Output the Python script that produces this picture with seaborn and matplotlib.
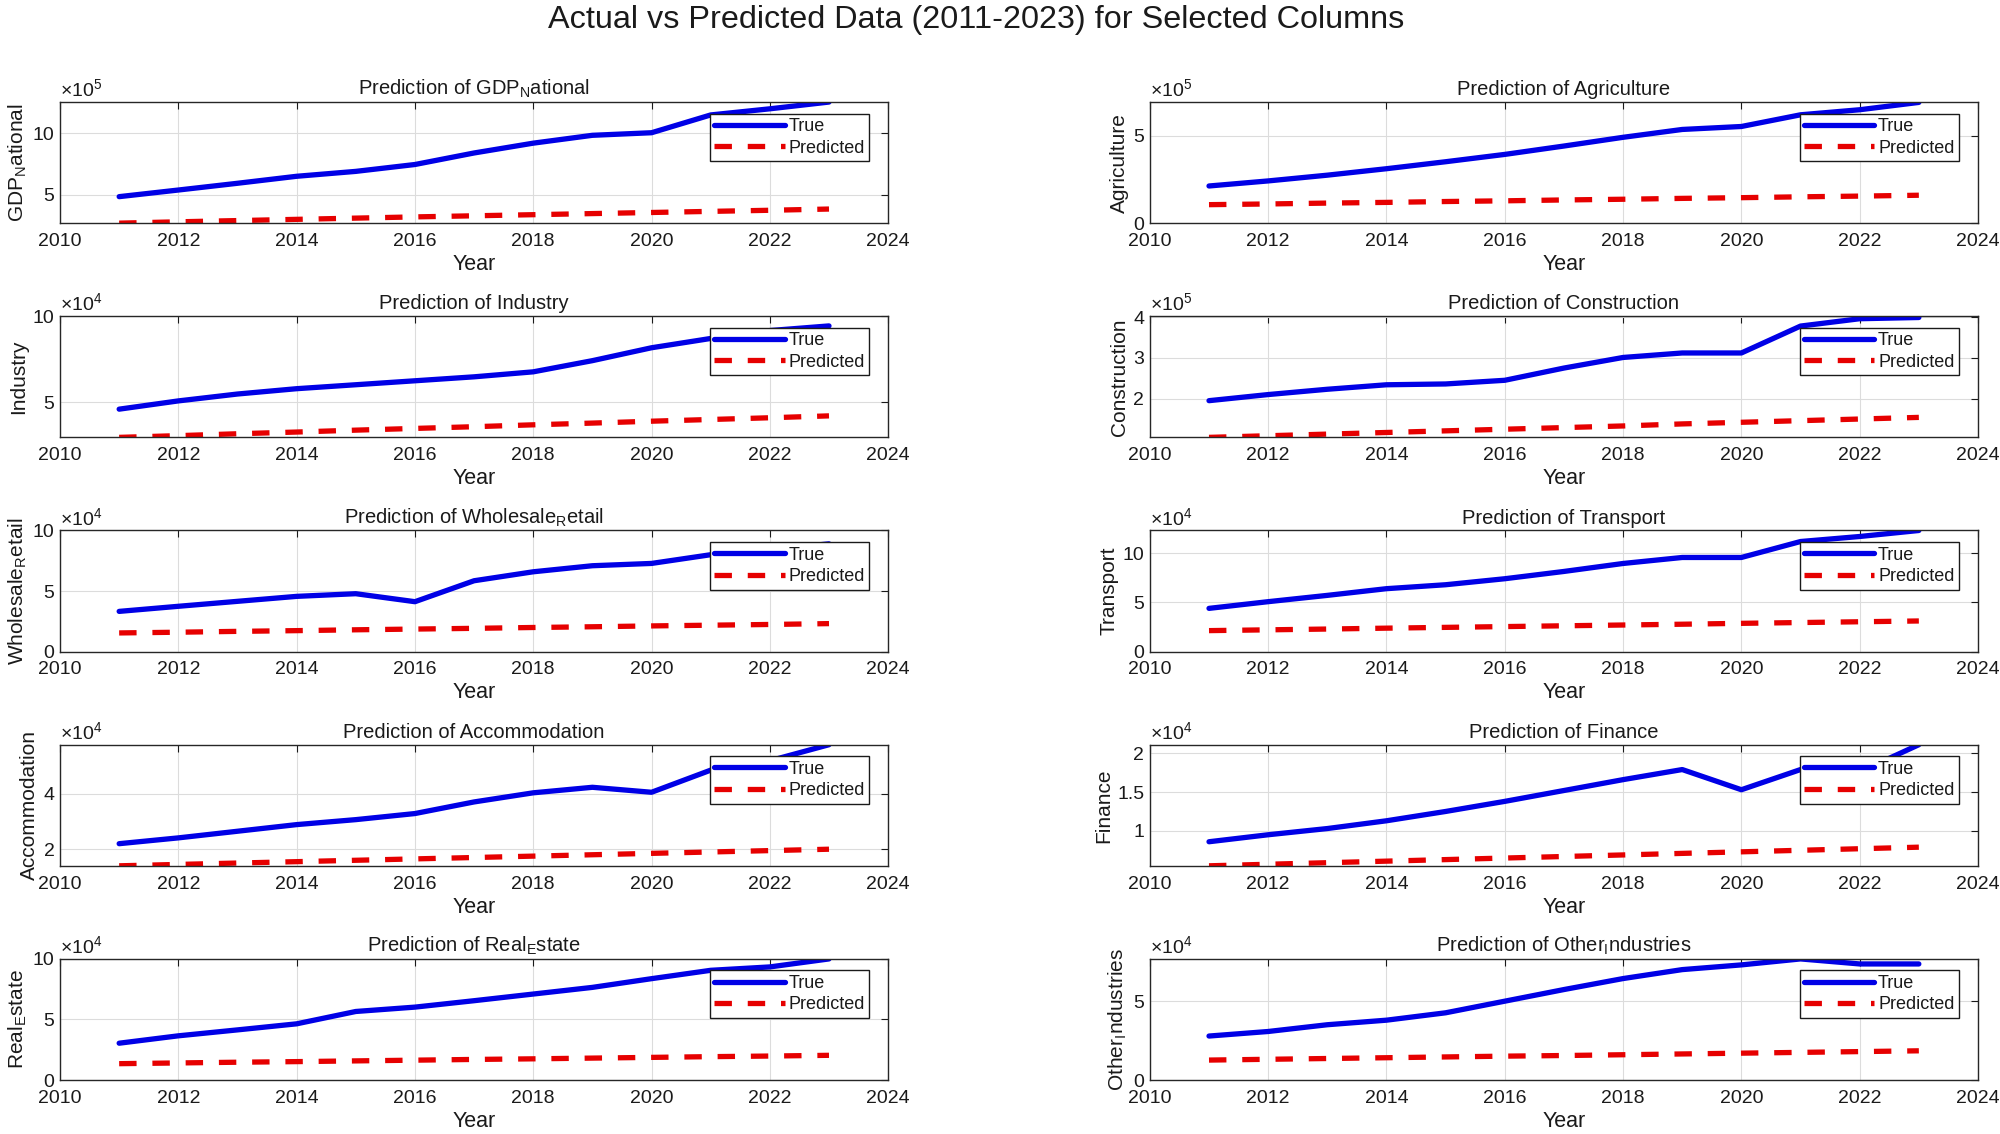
import matplotlib
matplotlib.use('Agg')
import matplotlib.pyplot as plt
import seaborn as sns
import pandas as pd
from matplotlib.ticker import FuncFormatter

years = list(range(2011, 2024))

gdp_true = [484000, 538000, 593000, 650000, 690000, 746000, 840000, 920000, 984000, 1005000, 1150000, 1200000, 1255000]
gdp_pred = [268000, 279000, 289000, 299000, 309000, 319000, 328000, 337000, 346000, 355000, 364000, 373000, 383000]

agri_true = [213000, 242000, 275000, 312000, 352000, 394000, 442000, 492000, 537000, 554000, 621000, 650000, 692000]
agri_pred = [106000, 110000, 115000, 119000, 124000, 128000, 133000, 137000, 142000, 146000, 151000, 155000, 160000]

ind_true = [46000, 50800, 54800, 57900, 60200, 62500, 64800, 67700, 74200, 81700, 87100, 91700, 94400]
ind_pred = [29600, 30600, 31700, 32700, 33800, 34800, 35800, 36900, 37900, 39000, 40000, 41000, 42100]

cons_true = [195000, 210000, 223000, 234000, 236000, 245000, 275000, 301000, 312000, 312000, 378000, 396000, 399000]
cons_pred = [105000, 109000, 113000, 117000, 121000, 125000, 129000, 133000, 138000, 142000, 146000, 150000, 154000]

whole_true = [33200, 37400, 41500, 45600, 47800, 41200, 58500, 65900, 70900, 72800, 80000, 84000, 89000]
whole_pred = [15400, 16000, 16700, 17300, 18000, 18600, 19200, 19900, 20500, 21200, 21800, 22400, 23100]

trans_true = [43900, 50700, 57100, 63900, 67900, 74000, 81400, 89500, 95600, 95600, 111800, 116900, 123000]
trans_pred = [21300, 22100, 22900, 23800, 24600, 25400, 26200, 27000, 27800, 28700, 29500, 30300, 31100]

accom_true = [22000, 24100, 26500, 28900, 30700, 32900, 37100, 40400, 42400, 40600, 48600, 52000, 57800]
accom_pred = [14000, 14500, 15000, 15500, 16000, 16500, 17000, 17500, 18000, 18500, 19000, 19500, 20000]

fin_true = [8600, 9500, 10300, 11300, 12500, 13800, 15200, 16600, 17900, 15300, 17900, 17600, 21100]
fin_pred = [5500, 5700, 5900, 6100, 6300, 6500, 6700, 6900, 7100, 7300, 7500, 7700, 7900]

real_true = [30400, 36500, 41400, 46400, 56600, 60200, 65500, 71000, 76500, 83700, 90600, 93400, 100000]
real_pred = [13500, 14100, 14700, 15200, 15800, 16400, 17000, 17500, 18100, 18700, 19300, 19800, 20400]

other_true = [28000, 30900, 35200, 38100, 42800, 50200, 57600, 64600, 70300, 73300, 77100, 73900, 73900]
other_pred = [12700, 13200, 13700, 14200, 14700, 15200, 15600, 16100, 16600, 17100, 17600, 18100, 18600]

# name shown (underscore rendered as subscript, like the original), exponent, y ticks, y range
panels = [
    ('GDP$_{\\mathregular{N}}$ational', gdp_true, gdp_pred, 5, [5, 10], (2.68, 12.55)),
    ('Agriculture', agri_true, agri_pred, 5, [0, 5], (0, 6.94)),
    ('Industry', ind_true, ind_pred, 4, [5, 10], (2.96, 10)),
    ('Construction', cons_true, cons_pred, 5, [2, 3, 4], (1.05, 4.02)),
    ('Wholesale$_{\\mathregular{R}}$etail', whole_true, whole_pred, 4, [0, 5, 10], (0, 10)),
    ('Transport', trans_true, trans_pred, 4, [0, 5, 10], (0, 12.3)),
    ('Accommodation', accom_true, accom_pred, 4, [2, 4], (1.40, 5.78)),
    ('Finance', fin_true, fin_pred, 4, [1, 1.5, 2], (0.55, 2.11)),
    ('Real$_{\\mathregular{E}}$state', real_true, real_pred, 4, [0, 5, 10], (0, 10)),
    ('Other$_{\\mathregular{I}}$ndustries', other_true, other_pred, 4, [0, 5], (0, 7.71)),
]

sns.set_style('white')
plt.rcParams['font.family'] = ['Liberation Sans', 'DejaVu Sans']
plt.rcParams['mathtext.fontset'] = 'custom'
plt.rcParams['mathtext.rm'] = 'Liberation Sans'
plt.rcParams['mathtext.it'] = 'Liberation Sans:italic'
plt.rcParams['text.color'] = '#1a1a1a'
plt.rcParams['axes.labelcolor'] = '#1a1a1a'

fig, axes = plt.subplots(5, 2, figsize=(20, 11.34), dpi=100)
fig.subplots_adjust(left=0.03, right=0.989, top=0.91, bottom=0.0476, wspace=0.316, hspace=0.769)

for ax, (name, tr, pr, ex, yt, yl) in zip(axes.flat, panels):
    df = pd.DataFrame({'Year': years, 'True': tr, 'Predicted': pr})
    sns.lineplot(data=df, x='Year', y='True', ax=ax, color='#0000e6', lw=3.8, label='True')
    sns.lineplot(data=df, x='Year', y='Predicted', ax=ax, color='#e60000', lw=3.8,
                 linestyle=(0, (3.3, 3.0)), label='Predicted')
    scale = 10 ** ex
    ax.set_xlim(2010, 2024)
    ax.set_xticks(range(2010, 2025, 2))
    ax.set_ylim(yl[0] * scale, yl[1] * scale)
    ax.set_yticks([v * scale for v in yt])
    ax.yaxis.set_major_formatter(FuncFormatter(lambda v, p, s=scale: f'{v / s:g}'))
    ax.text(0, 1.015, '$\\times$10$^{%d}$' % ex, transform=ax.transAxes,
            ha='left', va='bottom', fontsize=14)
    ax.set_title('Prediction of ' + name, fontsize=14.5, pad=5)
    ax.set_xlabel('Year', fontsize=15.5, labelpad=3)
    ax.set_ylabel(name, fontsize=15, labelpad=3)
    ax.grid(True, color='#dcdcdc', lw=0.8)
    ax.tick_params(direction='in', top=True, right=True, length=5, width=0.8,
                   labelsize=14, colors='#1a1a1a', pad=4)
    ax.tick_params(axis='x', pad=7)
    for sp in ax.spines.values():
        sp.set_color('#262626')
        sp.set_linewidth(1.0)
    leg = ax.legend(loc='upper right', bbox_to_anchor=(0.977, 0.905), fontsize=13,
                    handlelength=3.9, handletextpad=0.2, borderpad=0.25,
                    labelspacing=0.25, fancybox=False, framealpha=1, borderaxespad=0)
    leg.get_frame().set_edgecolor('#1a1a1a')
    leg.get_frame().set_linewidth(1.0)

fig.suptitle('Actual vs Predicted Data (2011-2023) for Selected Columns', fontsize=23.3,
             x=0.488, y=0.982, va='center')

plt.savefig('out.png', dpi=100)
